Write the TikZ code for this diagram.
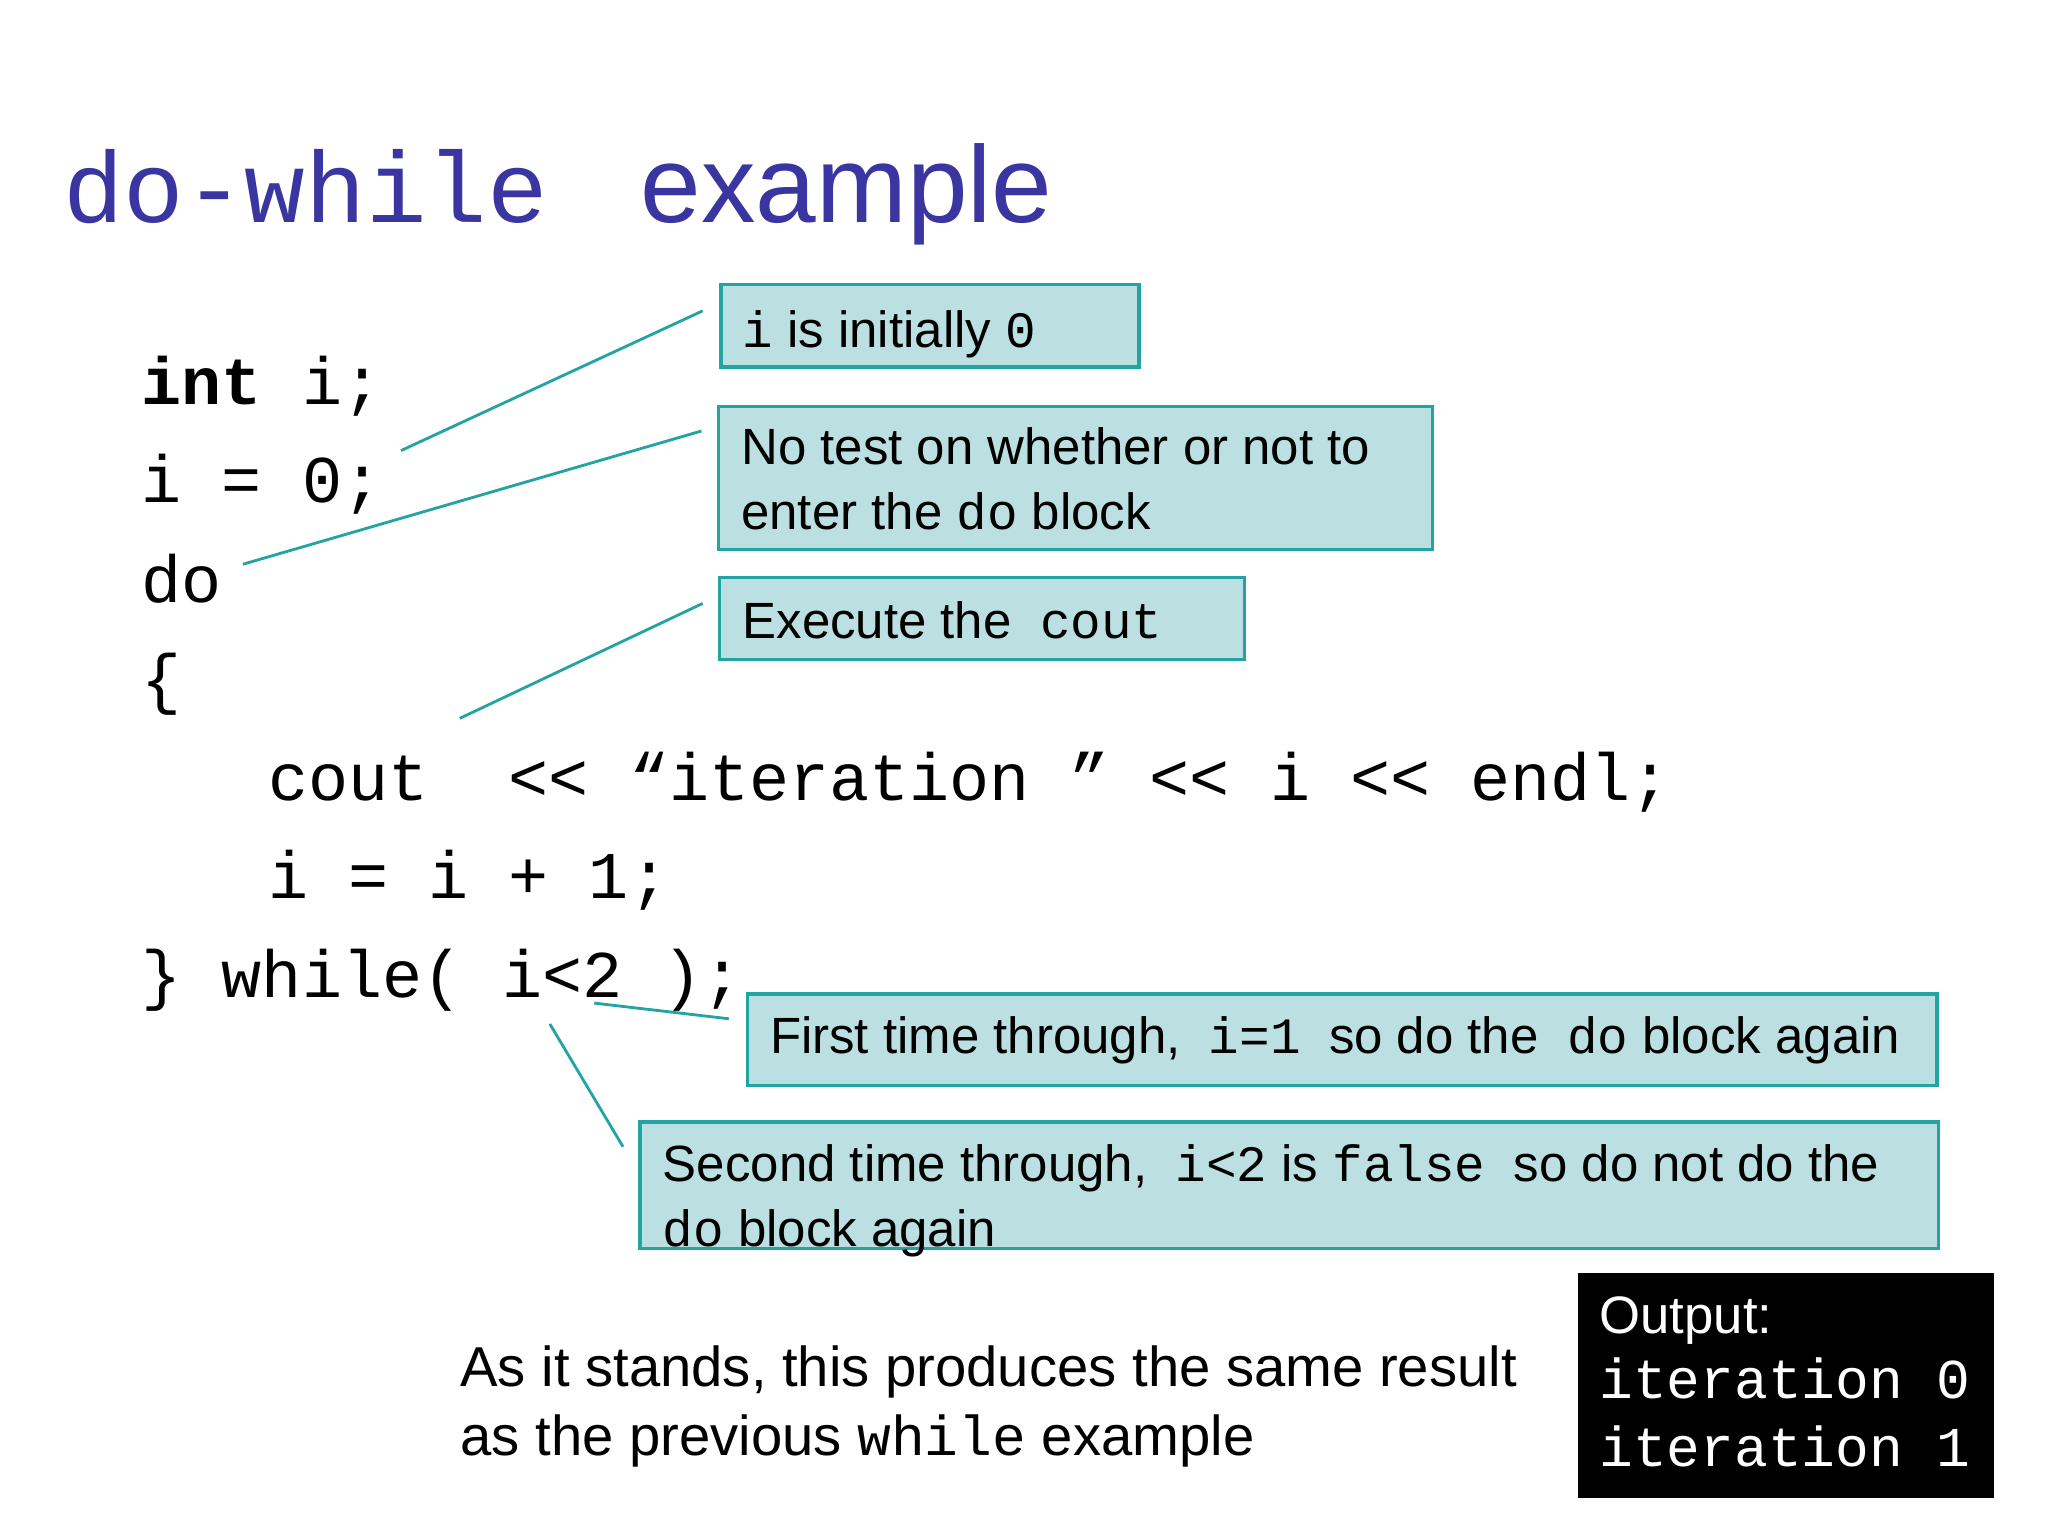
\documentclass[tikz,border=0pt]{standalone}
\usepackage{fontspec}
\setmainfont{Liberation Sans}
\setmonofont{Liberation Mono}
\definecolor{titleblue}{HTML}{3A35A0}
\definecolor{boxfill}{HTML}{BCE0E2}
\definecolor{teal2}{HTML}{23A3A3}
\begin{document}
\begin{tikzpicture}[x=0.01306cm,y=-0.01306cm,
  box/.style={draw=teal2,line width=0.9pt,fill=boxfill},
  btxt/.style={anchor=north west,align=left,font=\fontsize{14.5}{18.5}\selectfont,inner sep=0pt},
  code/.style={anchor=base west,inner sep=0pt,font=\fontsize{19}{22}\ttfamily},
  conn/.style={draw=teal2,line width=0.8pt}]
\useasboundingbox (0,0) rectangle (1568,1176);
\fill[white] (0,0) rectangle (1568,1176);
% title
\node[anchor=base west,inner sep=0pt,text=titleblue,font=\fontsize{28.7}{30}\ttfamily] (t1) at (48,170) {do-while};
\node[anchor=base west,inner sep=0pt,text=titleblue,font=\fontsize{31}{34}\selectfont] (t2) at (490,170) {example};
% code
\node[code] (c1) at (108,310) {\textbf{int} i;};
\node[code] (c2) at (108,385) {i = 0;};
\node[code] (c3) at (108,461) {do};
\node[code] (c4) at (108,537) {\{};
\node[code] (c5) at (205,613) {cout \ << “iteration ” << i << endl;};
\node[code] (c6) at (205,688) {i = i + 1;};
\node[code] (c7) at (108,764) {\} while( i<2 );};
% boxes
\draw[box] (552,218) rectangle (872,281);
\node[btxt] (b1) at (568,237) {\texttt{i} is initially \texttt{0}};
\draw[box] (550,311) rectangle (1097,421);
\node[btxt] (b2) at (567,327) {No test on whether or not to\\enter the \texttt{do} block};
\draw[box] (551,442) rectangle (953,505);
\node[btxt] (b3) at (568,460) {Execute the \ \texttt{cout}};
\draw[box] (572,761) rectangle (1483,831);
\node[btxt] (b4) at (589,778) {First time through, \ \texttt{i=1} \ so do the \ \texttt{do} block again};
\draw[box] (490,859) rectangle (1484,956);
\node[btxt] (b5) at (507,876) {Second time through, \ \texttt{i<2} is \texttt{false} \ so do not do the\\\texttt{do} block again};
% connectors
\coordinate (p1) at (307,345); \coordinate (q1) at (538,238);
\coordinate (p2) at (186,432); \coordinate (q2) at (537,330);
\coordinate (p3) at (352,550); \coordinate (q3) at (538,462);
\coordinate (p4) at (455,768); \coordinate (q4) at (558,780);
\coordinate (p5) at (421,784); \coordinate (q5) at (477,878);
\draw[conn] (p1) -- (q1);
\draw[conn] (p2) -- (q2);
\draw[conn] (p3) -- (q3);
\draw[conn] (p4) -- (q4);
\draw[conn] (p5) -- (q5);
% bottom text
\node[btxt,font=\fontsize{16}{19.5}\selectfont] (bt) at (352,1030) {As it stands, this produces the same result\\as the previous \texttt{while} example};
% output
\fill[black] (1208,975) rectangle (1527,1147);
\node[btxt,text=white,font=\fontsize{15}{19.5}\selectfont] (out) at (1224,992) {Output:\\[-1pt]{\fontsize{16}{19.5}\ttfamily iteration 0}\\{\fontsize{16}{19.5}\ttfamily iteration 1}};
\end{tikzpicture}
\end{document}
